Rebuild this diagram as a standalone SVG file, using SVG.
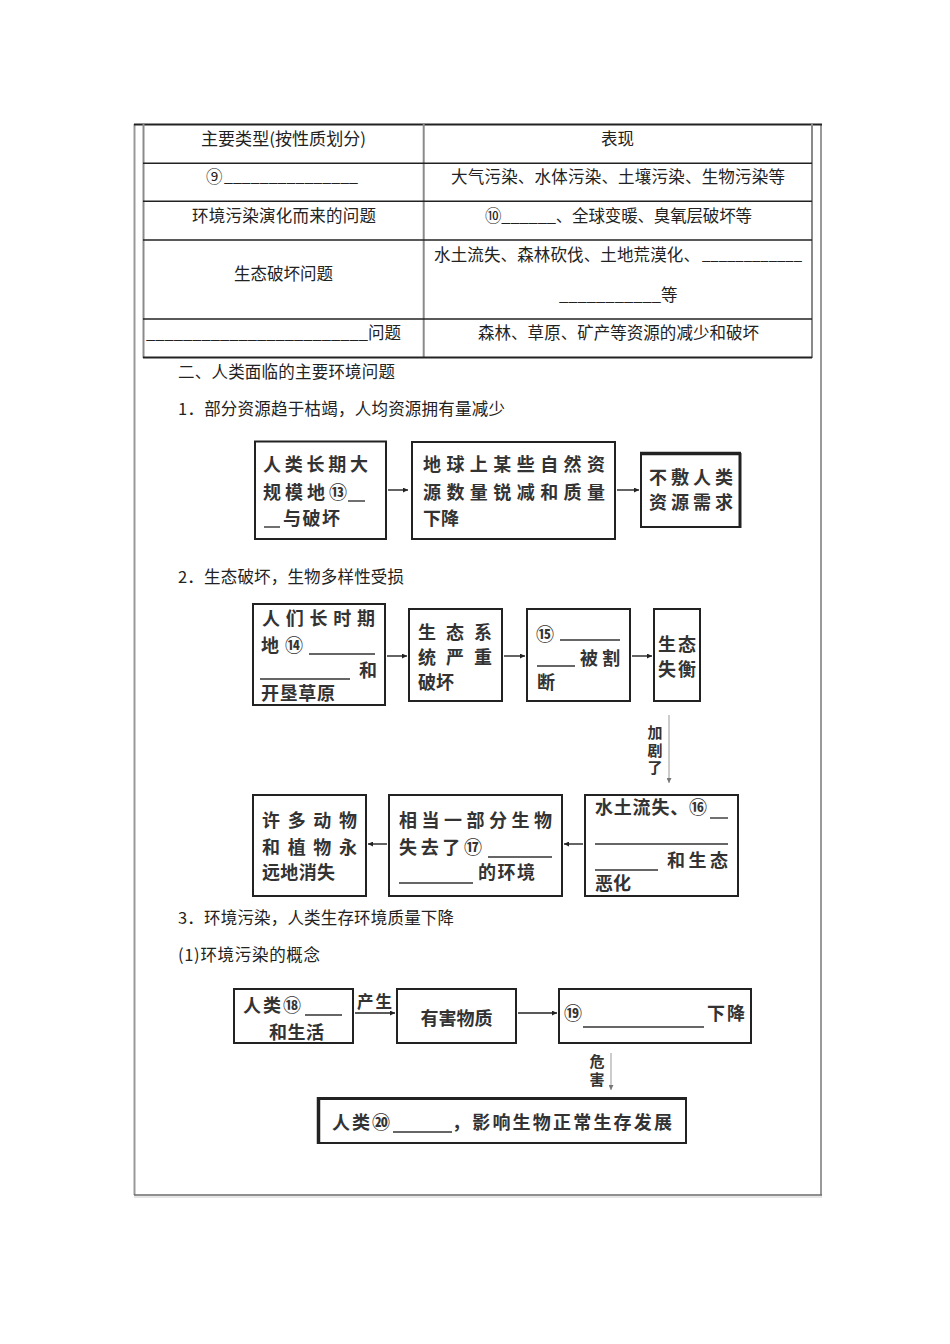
<svg xmlns="http://www.w3.org/2000/svg" width="950" height="1344" viewBox="0 0 950 1344">
<defs>
<style>
.t{font-family:"Noto Sans CJK SC","Noto Sans",sans-serif;font-size:16.5px;fill:#222}
.f{font-family:"Noto Sans CJK SC","Noto Sans",sans-serif;font-size:18px;font-weight:bold;fill:#333}
.s{font-family:"Noto Sans CJK SC","Noto Sans",sans-serif;font-size:15px;font-weight:bold;fill:#333}
.v{writing-mode:vertical-rl;letter-spacing:2.5px}
.box{fill:#fff;stroke:#222;stroke-width:2}
.blank{stroke:#333;stroke-width:1.4}
.frame{stroke:#999;stroke-width:2;fill:none}
.hl{stroke:#222;stroke-width:1.5}
.vl{stroke:#8a8a8a;stroke-width:2}
.conn{stroke:#222;stroke-width:1.4;fill:none}
.gconn{stroke:#999;stroke-width:1;fill:none}
</style>
<marker id="ah" viewBox="0 0 10 10" refX="10" refY="5" markerWidth="6" markerHeight="5" markerUnits="userSpaceOnUse" orient="auto"><path d="M0,0 L10,5 L0,10 z" fill="#222"/></marker>
<marker id="gah" viewBox="0 0 10 10" refX="10" refY="5" markerWidth="7" markerHeight="5" markerUnits="userSpaceOnUse" orient="auto"><path d="M0,0 L10,5 L0,10 z" fill="#777"/></marker>
</defs>
<rect width="950" height="1344" fill="#fff"/>

<g id="frame">
<line class="frame" x1="134.5" y1="124" x2="134.5" y2="1195"/>
<line class="frame" x1="821" y1="124" x2="821" y2="1195"/>
<line x1="134" y1="1195" x2="822" y2="1195" stroke="#6a6a6a" stroke-width="1.6"/>
<line x1="134" y1="1197" x2="822" y2="1197" stroke="#ccc" stroke-width="1"/>
</g>

<g id="table">
<line x1="134" y1="124.5" x2="822" y2="124.5" stroke="#222" stroke-width="2.2"/>
<line class="vl" x1="143.5" y1="124" x2="143.5" y2="358"/>
<line class="vl" x1="812" y1="124" x2="812" y2="358"/>
<line class="vl" x1="423.7" y1="124" x2="423.7" y2="358"/>
<line class="hl" x1="143" y1="163.3" x2="812" y2="163.3"/>
<line class="hl" x1="143" y1="201.3" x2="812" y2="201.3"/>
<line class="hl" x1="143" y1="240" x2="812" y2="240"/>
<line class="hl" x1="143" y1="319" x2="812" y2="319"/>
<line x1="143" y1="357.5" x2="812" y2="357.5" stroke="#222" stroke-width="2"/>
<text class="t" x="201" y="145" textLength="165" lengthAdjust="spacingAndGlyphs">主要类型(按性质划分)</text>
<text class="t" x="617.5" y="145" text-anchor="middle">表现</text>
<text class="t" x="206" y="183">⑨</text>
<text class="t" x="224" y="182" textLength="134" lengthAdjust="spacingAndGlyphs">_______________</text>
<text class="t" x="451" y="183" textLength="334">大气污染、水体污染、土壤污染、生物污染等</text>
<text class="t" x="192" y="222" textLength="184">环境污染演化而来的问题</text>
<text class="t" x="485" y="222" textLength="267">⑩______、全球变暖、臭氧层破坏等</text>
<text class="t" x="283.5" y="280" text-anchor="middle">生态破坏问题</text>
<text class="t" x="434" y="261" textLength="266">水土流失、森林砍伐、土地荒漠化、</text>
<text class="t" x="702" y="260" textLength="100" lengthAdjust="spacingAndGlyphs">____________</text>
<text class="t" x="559" y="301" textLength="102" lengthAdjust="spacingAndGlyphs">___________</text>
<text class="t" x="661" y="301">等</text>
<text class="t" x="146" y="339" textLength="222" lengthAdjust="spacingAndGlyphs">________________________</text>
<text class="t" x="368" y="339">问题</text>
<text class="t" x="478" y="339" textLength="281">森林、草原、矿产等资源的减少和破坏</text>
</g>

<g id="headings">
<text class="t" x="178" y="378" textLength="217">二、人类面临的主要环境问题</text>
<text class="t" x="178" y="415" textLength="327">1．部分资源趋于枯竭，人均资源拥有量减少</text>
<text class="t" x="178" y="583" textLength="226">2．生态破坏，生物多样性受损</text>
<text class="t" x="178" y="924" textLength="276">3．环境污染，人类生存环境质量下降</text>
<text class="t" x="178" y="961" textLength="142">(1)环境污染的概念</text>
</g>

<g id="connectors">
<line class="conn" x1="388" y1="490" x2="408" y2="490" marker-end="url(#ah)"/>
<line class="conn" x1="617" y1="490" x2="639" y2="490" marker-end="url(#ah)"/>
<line class="conn" x1="387" y1="656" x2="407" y2="656" marker-end="url(#ah)"/>
<line class="conn" x1="504" y1="656" x2="525" y2="656" marker-end="url(#ah)"/>
<line class="conn" x1="632" y1="656" x2="652" y2="656" marker-end="url(#ah)"/>
<line class="gconn" x1="669" y1="715" x2="669" y2="783" marker-end="url(#gah)"/>
<line class="conn" x1="583" y1="844" x2="564" y2="844" marker-end="url(#ah)"/>
<line class="conn" x1="387" y1="844" x2="368" y2="844" marker-end="url(#ah)"/>
<line class="conn" x1="355" y1="1013" x2="395" y2="1013" marker-end="url(#ah)"/>
<line class="conn" x1="518" y1="1013" x2="557" y2="1013" marker-end="url(#ah)"/>
<line class="gconn" x1="611" y1="1053" x2="611" y2="1090" marker-end="url(#gah)"/>
<text class="s v" x="655" y="725">加剧了</text>
<text class="s" x="357" y="1008" textLength="35" style="font-size:16.5px">产生</text>
<text class="s v" x="597" y="1054" style="letter-spacing:3px">危害</text>
</g>

<g id="nodeA">
<rect class="box" x="255" y="441.5" width="131" height="97.5"/>
<text class="f" x="263" y="471" textLength="105">人类长期大</text>
<text class="f" x="263" y="499" textLength="84">规模地⑬</text>
<line class="blank" x1="348" y1="501" x2="365" y2="501"/>
<line class="blank" x1="264" y1="527" x2="280" y2="527"/>
<text class="f" x="283" y="525" textLength="57">与破坏</text>
</g>

<g id="nodeB">
<rect class="box" x="412" y="442" width="203" height="97"/>
<text class="f" x="423" y="471" textLength="182">地球上某些自然资</text>
<text class="f" x="423" y="499" textLength="182">源数量锐减和质量</text>
<text class="f" x="423" y="525">下降</text>
</g>

<g id="nodeC">
<rect class="box" x="641" y="453" width="99" height="74"/>
<line x1="640" y1="453.5" x2="741" y2="453.5" stroke="#222" stroke-width="3.5"/>
<line x1="740" y1="453" x2="740" y2="528" stroke="#222" stroke-width="3"/>
<text class="f" x="649" y="484" textLength="84">不敷人类</text>
<text class="f" x="649" y="509" textLength="84">资源需求</text>
</g>

<g id="nodeD">
<rect class="box" x="253" y="604" width="132" height="101"/>
<text class="f" x="262" y="625" textLength="113">人们长时期</text>
<text class="f" x="261" y="652">地</text>
<text class="f" x="285" y="652">⑭</text>
<line class="blank" x1="309" y1="654" x2="375" y2="654"/>
<line class="blank" x1="260" y1="679" x2="350" y2="679"/>
<text class="f" x="359" y="677">和</text>
<text class="f" x="261" y="700" textLength="74">开垦草原</text>
</g>

<g id="nodeE">
<rect class="box" x="409" y="609" width="93" height="92"/>
<text class="f" x="418" y="639" textLength="74">生态系</text>
<text class="f" x="418" y="664" textLength="74">统严重</text>
<text class="f" x="418" y="689">破坏</text>
</g>

<g id="nodeF">
<rect class="box" x="527" y="609" width="103" height="92"/>
<text class="f" x="536" y="641">⑮</text>
<line class="blank" x1="560" y1="640" x2="620" y2="640"/>
<line class="blank" x1="537" y1="666" x2="575" y2="666"/>
<text class="f" x="580" y="665" textLength="40">被割</text>
<text class="f" x="537" y="689">断</text>
</g>

<g id="nodeG">
<rect class="box" x="654" y="609" width="46" height="92"/>
<text class="f" x="658" y="650.5" textLength="38">生态</text>
<text class="f" x="658" y="675.5" textLength="38">失衡</text>
</g>

<g id="nodeH">
<rect class="box" x="585" y="795" width="153" height="101"/>
<text class="f" x="595" y="814" textLength="112">水土流失、⑯</text>
<line class="blank" x1="710" y1="818" x2="728" y2="818"/>
<line class="blank" x1="595" y1="844" x2="728" y2="844"/>
<line class="blank" x1="595" y1="870" x2="658" y2="870"/>
<text class="f" x="667" y="867" textLength="61">和生态</text>
<text class="f" x="595" y="890">恶化</text>
</g>

<g id="nodeI">
<rect class="box" x="389" y="795" width="173" height="101"/>
<text class="f" x="399" y="827" textLength="153">相当一部分生物</text>
<text class="f" x="399" y="854" textLength="83">失去了⑰</text>
<line class="blank" x1="488" y1="857" x2="552" y2="857"/>
<line class="blank" x1="399" y1="883" x2="473" y2="883"/>
<text class="f" x="478" y="879" textLength="57">的环境</text>
</g>

<g id="nodeJ">
<rect class="box" x="253" y="795" width="113" height="101"/>
<text class="f" x="262" y="827" textLength="95">许多动物</text>
<text class="f" x="262" y="854" textLength="95">和植物永</text>
<text class="f" x="262" y="879" textLength="73">远地消失</text>
</g>

<g id="nodeK">
<rect class="box" x="234" y="989" width="119" height="54"/>
<text class="f" x="243" y="1012" textLength="58">人类⑱</text>
<line class="blank" x1="305" y1="1015" x2="342" y2="1015"/>
<text class="f" x="269" y="1039" textLength="55">和生活</text>
</g>

<g id="nodeL">
<rect class="box" x="397" y="989" width="119" height="54"/>
<text class="f" x="456.5" y="1025" text-anchor="middle">有害物质</text>
</g>

<g id="nodeM">
<rect class="box" x="559" y="989" width="192" height="54"/>
<text class="f" x="564" y="1020">⑲</text>
<line class="blank" x1="583" y1="1027" x2="704" y2="1027"/>
<text class="f" x="707" y="1020" textLength="38">下降</text>
</g>

<g id="nodeN">
<rect class="box" x="318" y="1098" width="368" height="45"/>
<line x1="318.5" y1="1097" x2="318.5" y2="1144" stroke="#222" stroke-width="3.5"/>
<line x1="317" y1="1098.5" x2="687" y2="1098.5" stroke="#222" stroke-width="3"/>
<text class="f" x="332" y="1129" textLength="58">人类⑳</text>
<line class="blank" x1="393" y1="1132" x2="452" y2="1132"/>
<text class="f" x="452" y="1129" textLength="220">，影响生物正常生存发展</text>
</g>
</svg>
